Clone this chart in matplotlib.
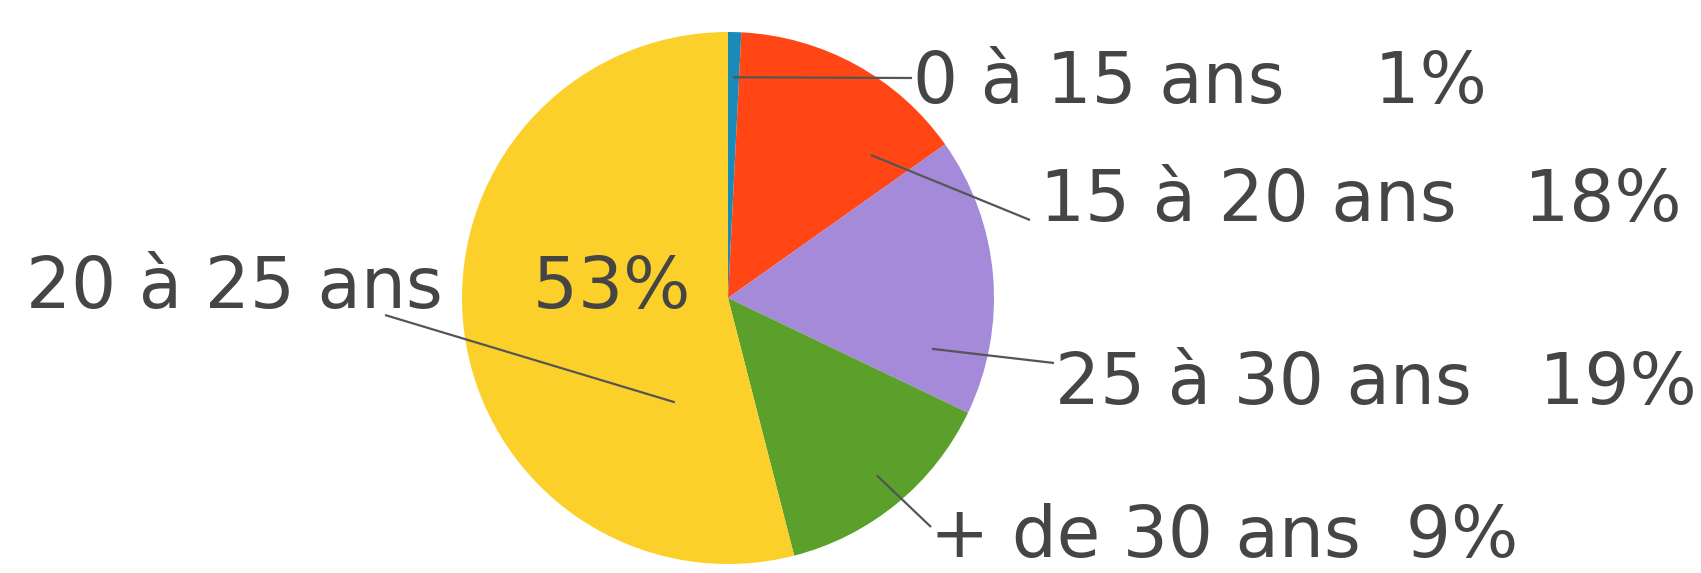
import matplotlib
matplotlib.use("Agg")
import matplotlib.pyplot as plt
import numpy as np


# slice shares as drawn (clockwise from 12 o'clock)
categories = ["0 à 15 ans", "15 à 20 ans", "25 à 30 ans", "+ de 30 ans", "20 à 25 ans"]
shares = [0.8, 14.4, 16.9, 13.9, 54.0]
pct_labels = ["1%", "18%", "19%", "9%", "53%"]
gaps = [4, 3, 3, 2, 4]
colors = ["#1a8bb8", "#ff4614", "#a58ad9", "#5ba02b", "#fcd02a"]

W, H = 1701, 573
CENTER = (728, 298)
RADIUS = 266
TEXT_COLOR = "#454545"
LINE_COLOR = "#555555"
FONT_SIZE = 51

# label anchor (x, baseline y) in pixels, leader start (deg clockwise from top, r frac), leader end
label_pos = [(913, 103), (1040, 221), (1055, 404), (930, 557), (26, 308)]
leader_start = [(1.3, 0.83), (45, 0.76), (104, 0.79), (140, 0.87), (207, 0.44)]
leader_end = [(912, 78), (1030, 220), (1054, 363), (931, 527), (385, 315)]


def main():
    fig = plt.figure(figsize=(W / 100, H / 100), dpi=100)
    fig.patch.set_facecolor("white")
    ax = fig.add_axes([0, 0, 1, 1])

    ax.pie(
        shares,
        colors=colors,
        startangle=-90,
        counterclock=True,
        center=CENTER,
        radius=RADIUS,
        wedgeprops={"linewidth": 0, "antialiased": True},
    )
    ax.set_xlim(0, W)
    ax.set_ylim(H, 0)
    ax.set_aspect("equal")
    ax.axis("off")

    cx, cy = CENTER
    for i, name in enumerate(categories):
        ang, frac = leader_start[i]
        a = np.deg2rad(ang)
        sx = cx + frac * RADIUS * np.sin(a)
        sy = cy - frac * RADIUS * np.cos(a)
        ex, ey = leader_end[i]
        ax.plot([sx, ex], [sy, ey], color=LINE_COLOR, linewidth=1.6, zorder=3,
                solid_capstyle="butt")

        tx, ty = label_pos[i]
        ax.text(
            tx,
            ty,
            name + " " * gaps[i] + pct_labels[i],
            fontsize=FONT_SIZE,
            family="DejaVu Sans",
            color=TEXT_COLOR,
            ha="left",
            va="baseline",
            zorder=4,
        )

    fig.savefig("out.png", dpi=100, facecolor="white")


if __name__ == "__main__":
    main()
